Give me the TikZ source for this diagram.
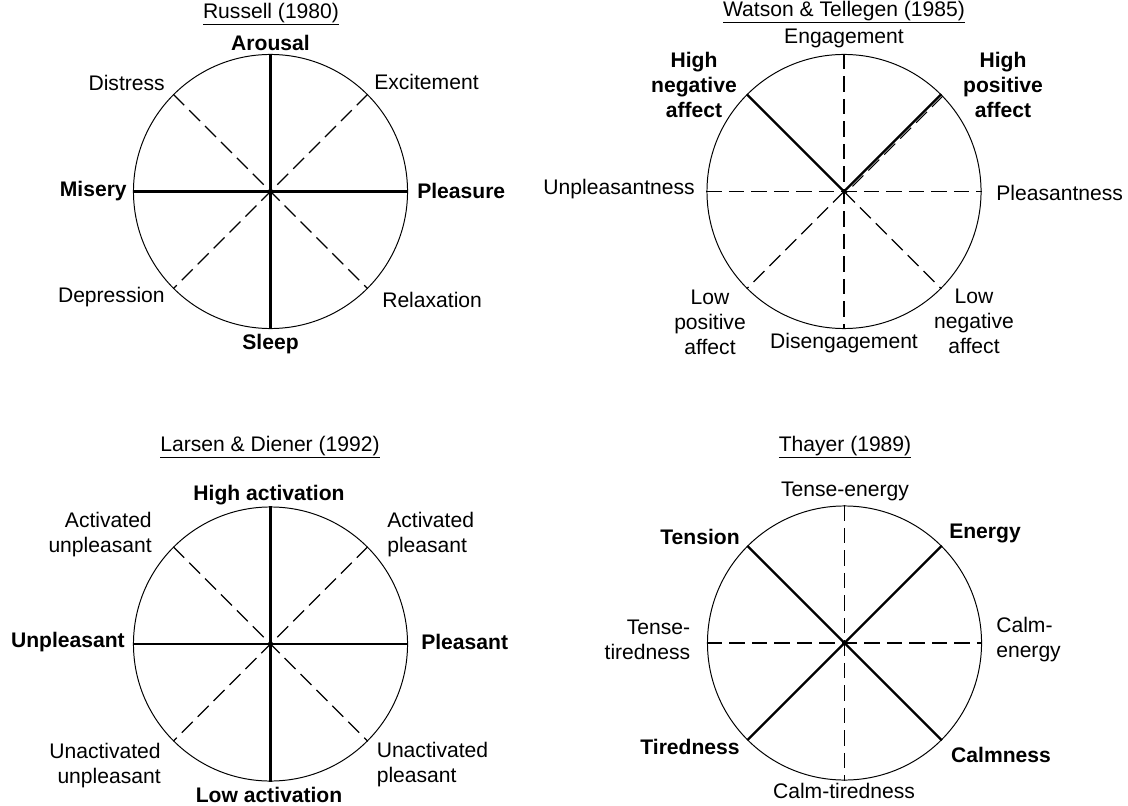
\documentclass[tikz,border=0pt]{standalone}
\usepackage{fontspec}
\setmainfont{Liberation Sans}
\usetikzlibrary{positioning}

\begin{document}
\begin{tikzpicture}[
        x=0.025cm, y=-0.025cm,
        wheel/.style={circle, draw, line width=0.7pt, minimum size=6.85cm, inner sep=0pt},
        main_axis/.style={line width=1.7pt, black},
        side_axis/.style={line width=0.8pt, black, dash pattern=on 11pt off 5pt},
        lab/.style={font=\fontsize{15}{17.8}\selectfont, inner sep=0pt},
        blab/.style={lab, font=\fontsize{15}{17.8}\selectfont\bfseries}
        ]
        \useasboundingbox (0,0) rectangle (1128,806);

        % Russell (1980)
        \node[wheel] (rus) at (270.5,191.5) {};
        \draw[side_axis] (rus.45) -- (rus.225);
        \draw[side_axis] (rus.135) -- (rus.315);
        \draw[main_axis] (rus.west) -- (rus.east);
        \draw[main_axis] (rus.north) -- (rus.south);
        \node[lab] (rusT) at (271,14) {\underline{Russell (1980)}};
        \node[blab] (rusN) at (270.5,43) {Arousal};
        \node[blab] (rusS) at (270.5,344) {Sleep};
        \node[blab, anchor=east] (rusW) at (127,191) {Misery};
        \node[blab, anchor=west] (rusE) at (417,191) {Pleasure};
        \node[lab, anchor=east] (rusNW) at (165,83) {Distress};
        \node[lab, anchor=west] (rusNE) at (374,82) {Excitement};
        \node[lab, anchor=east] (rusSW) at (165,297) {Depression};
        \node[lab, anchor=west] (rusSE) at (382,300) {Relaxation};

        % Watson & Tellegen (1985)
        \node[wheel] (wat) at (844,191.5) {};
        \draw[side_axis] (wat.west) -- (wat.east);
        \draw[side_axis] (wat.north) -- (wat.south);
        \draw[side_axis] (wat.center) -- (wat.225);
        \draw[side_axis] (wat.center) -- (wat.315);
        \draw[side_axis] ([shift={(1.2pt,-1.2pt)}]wat.45) -- ([shift={(1.2pt,-1.2pt)}]wat.center);
        \draw[main_axis] (wat.135) -- (wat.center);
        \draw[main_axis] (wat.45) -- (wat.center);
        \node[lab] (watT) at (844,12) {\underline{Watson \& Tellegen (1985)}};
        \node[lab] (watN) at (844,38) {Engagement};
        \node[lab] (watS) at (844,343) {Disengagement};
        \node[lab, anchor=east] (watW) at (695,189) {Unpleasantness};
        \node[lab, anchor=west] (watE) at (996,193) {Pleasantness};
        \node[blab, align=center] (watNW) at (694,85) {High\\negative\\affect};
        \node[blab, align=center] (watNE) at (1003,85) {High\\positive\\affect};
        \node[lab, align=center] (watSW) at (710,322) {Low\\positive\\affect};
        \node[lab, align=center] (watSE) at (974,321) {Low\\negative\\affect};

        % Larsen & Diener (1992)
        \node[wheel] (lar) at (270.5,644) {};
        \draw[side_axis] (lar.45) -- (lar.225);
        \draw[side_axis] (lar.135) -- (lar.315);
        \draw[main_axis] (lar.west) -- (lar.east);
        \draw[main_axis] (lar.north) -- (lar.south);
        \node[lab] (larT) at (270,447) {\underline{Larsen \& Diener (1992)}};
        \node[blab] (larN) at (269,495) {High activation};
        \node[blab] (larS) at (269,795) {Low activation};
        \node[blab, anchor=east] (larW) at (125,642) {Unpleasant};
        \node[blab, anchor=west] (larE) at (421,642) {Pleasant};
        \node[lab, align=right, anchor=east] (larNW) at (152,535) {Activated\\unpleasant};
        \node[lab, align=left, anchor=west] (larNE) at (387,535) {Activated\\pleasant};
        \node[lab, align=right, anchor=east] (larSW) at (161,766) {Unactivated\\unpleasant};
        \node[lab, align=left, anchor=west] (larSE) at (376.5,765) {Unactivated\\pleasant};

        % Thayer (1989)
        \node[wheel] (tha) at (844.5,643) {};
        \draw[side_axis] (tha.west) -- (tha.east);
        \draw[side_axis] (tha.north) -- (tha.south);
        \draw[main_axis] (tha.45) -- (tha.225);
        \draw[main_axis] (tha.135) -- (tha.315);
        \node[lab] (thaT) at (845,447) {\underline{Thayer (1989)}};
        \node[lab] (thaN) at (845,491) {Tense-energy};
        \node[lab] (thaS) at (844,791) {Calm-tiredness};
        \node[lab, align=right, anchor=east] (thaW) at (690.5,640) {Tense-\\tiredness};
        \node[lab, align=left, anchor=west] (thaE) at (996,640) {Calm-\\energy};
        \node[blab] (thaNW) at (700,537) {Tension};
        \node[blab] (thaNE) at (985,533) {Energy};
        \node[blab] (thaSW) at (690,747) {Tiredness};
        \node[blab] (thaSE) at (1001,755) {Calmness};

    \end{tikzpicture}
\end{document}
